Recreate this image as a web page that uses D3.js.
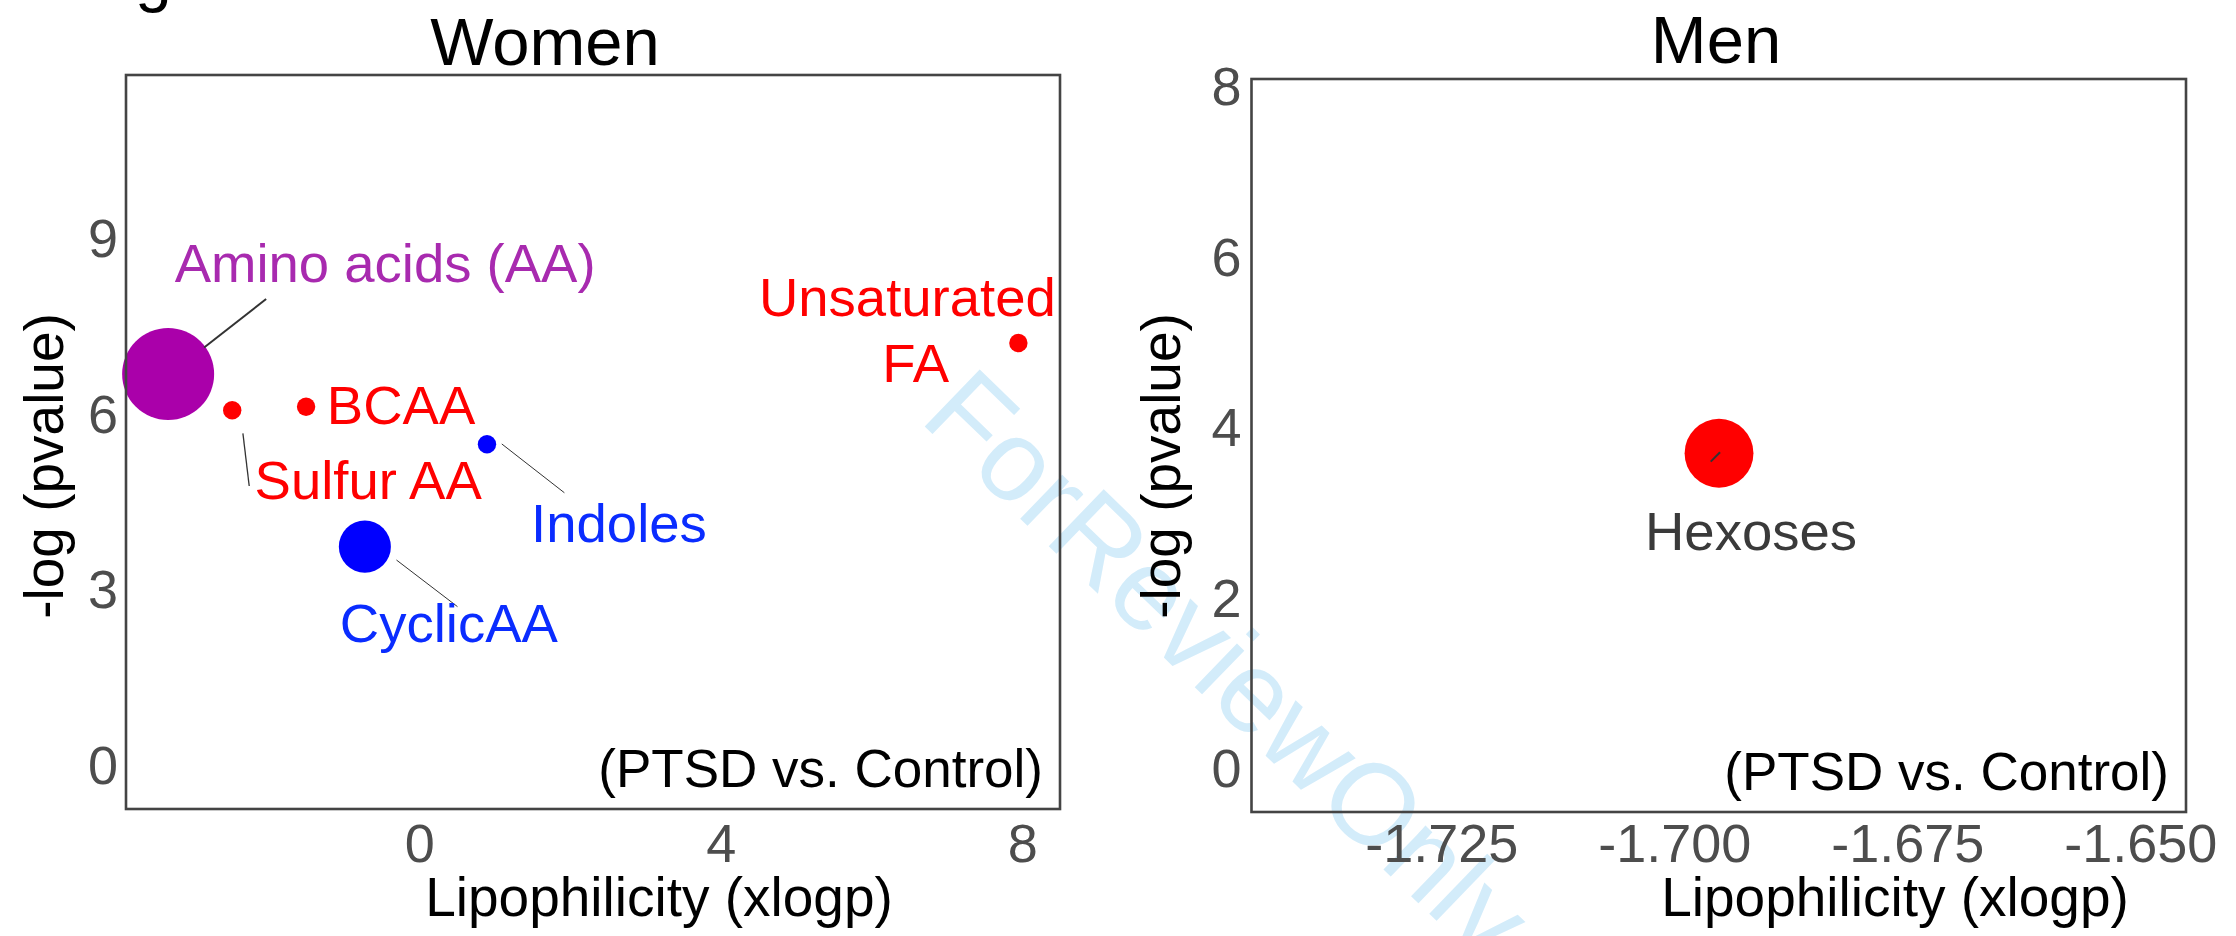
<!DOCTYPE html>
<html>
<head>
<meta charset="utf-8">
<script src="https://cdn.jsdelivr.net/npm/d3@7"></script>
<style>
  html, body { margin: 0; padding: 0; background: #ffffff; }
  svg { display: block; font-family: "Liberation Sans", Arial, Helvetica, sans-serif; }
</style>
</head>
<body>
<svg id="chart" width="2236" height="936"></svg>
<script>
// ---- data: chemical classes, lipophilicity (xlogp) and -log(p) ----
const womenClasses   = ["Amino acids (AA)", "Sulfur AA", "BCAA", "Indoles", "CyclicAA", "Unsaturated\nFA"];
const womenXlogp     = [-3.33, -2.48, -1.50, 0.90, -0.72, 7.95];
const womenNegLogP   = [6.70, 6.08, 6.14, 5.50, 3.75, 7.23];
const womenSetSize   = [25, 1, 1, 1, 8, 1];
const womenModule    = ["M1", "M2", "M2", "M3", "M3", "M2"];

const menClasses     = ["Hexoses"];
const menXlogp       = [-1.6952];
const menNegLogP     = [3.71];
const menSetSize     = [14];
const menModule      = ["M2"];

const womenXTicks = [0, 4, 8];
const womenYTicks = [0, 3, 6, 9];
const menXTicks   = [-1.725, -1.700, -1.675, -1.650];
const menYTicks   = [0, 2, 4, 6, 8];

const panelTitles = ["Women", "Men"];
const xTitle = "Lipophilicity (xlogp)";
const yTitle = "-log (pvalue)";
const contrastNote = "(PTSD vs. Control)";

// ---- styling ----
const pointColour = d3.scaleOrdinal().domain(["M1", "M2", "M3"]).range(["#AA00AA", "#FF0000", "#0000FF"]);
const labelColour = d3.scaleOrdinal().domain(["M1", "M2", "M3"]).range(["#A82AAF", "#FF0000", "#0A2CFF"]);
const radius = d3.scaleSqrt().domain([0, 25]).range([0, 46]);

// plain hyphen-minus for negative tick labels
const hyphen = f => v => f(v).replace("\u2212", "-");

const svg = d3.select("#chart");
const FONT = "'Liberation Sans', Arial, Helvetica, sans-serif";

// watermark across the figure
svg.append("text")
  .attr("transform", "translate(918,420) rotate(44)")
  .attr("font-size", 115)
  .attr("fill", "#d3ecfa")
  .text("ForReviewOnly");

// clipped panel letter at the top-left
svg.append("text")
  .attr("x", 135).attr("y", -1)
  .attr("font-size", 66)
  .attr("fill", "#000")
  .text("g");

// label placement (pixel offsets from each point, as laid out by the repel step)
const womenLabelLayout = [
  { dx: 217, dy: -92, seg: [36, -26.5, 98, -75], segW: 2 },
  { dx: 136, dy: 89,  seg: [10.7, 23, 17, 75.7], segW: 1.3 },
  { dx: 95,  dy: 17.5 },
  { dx: 132, dy: 97.5, seg: [14.8, -0.3, 77.4, 48.5], segW: 1 },
  { dx: 84,  dy: 95,  seg: [31.6, 13.4, 92.6, 60], segW: 1 },
  { dx: -108, dy: -27.3, lineDx: [-111 + 108, -102.7 + 108] }
];
const menLabelLayout = [
  { dx: 32, dy: 97, seg: [-8.3, 8.4, 1, -1], segW: 2, colour: "#3a3a3a" }
];

function drawPanel(cfg) {
  const { box, xDomain, yDomain, xTicks, yTicks, xFormat, names, xs, ys, sizes, modules, layout,
          title, titleX, titleY, xTitleX, yTitleX, xPad, yPad } = cfg;
  const x = d3.scaleLinear().domain(xDomain).range([box.left, box.right]);
  const y = d3.scaleLinear().domain(yDomain).range([box.bottom, box.top]);
  const g = svg.append("g");

  // axes (labels only, no tick marks)
  const xa = g.append("g").attr("transform", `translate(0,${box.bottom})`)
    .call(d3.axisBottom(x).tickValues(xTicks).tickSize(0).tickPadding(xPad).tickFormat(hyphen(xFormat)));
  const ya = g.append("g").attr("transform", `translate(${box.left},0)`)
    .call(d3.axisLeft(y).tickValues(yTicks).tickSize(0).tickPadding(yPad).tickFormat(d3.format("d")));
  [xa, ya].forEach(a => {
    a.select(".domain").remove();
    a.attr("font-family", FONT).attr("font-size", 54);
    a.selectAll("text").attr("fill", "#4D4D4D");
  });

  // points
  g.selectAll("circle.pt").data(names).join("circle")
    .attr("class", "pt")
    .attr("cx", (d, i) => x(xs[i]))
    .attr("cy", (d, i) => y(ys[i]))
    .attr("r", (d, i) => radius(sizes[i]))
    .attr("fill", (d, i) => pointColour(modules[i]));

  // repelled labels with leader segments
  names.forEach((name, i) => {
    const L = layout[i];
    const px = x(xs[i]), py = y(ys[i]);
    if (L.seg) {
      g.append("line")
        .attr("x1", px + L.seg[0]).attr("y1", py + L.seg[1])
        .attr("x2", px + L.seg[2]).attr("y2", py + L.seg[3])
        .attr("stroke", "#333333").attr("stroke-width", L.segW);
    }
    const lines = name.split("\n");
    lines.forEach((ln, k) => {
      g.append("text")
        .attr("x", px + L.dx + (L.lineDx ? L.lineDx[k] : 0))
        .attr("y", py + L.dy + k * 66)
        .attr("text-anchor", "middle")
        .attr("font-size", 54.5)
        .attr("fill", L.colour || labelColour(modules[i]))
        .text(ln);
    });
  });

  // panel border
  g.append("rect")
    .attr("x", box.left).attr("y", box.top)
    .attr("width", box.right - box.left).attr("height", box.bottom - box.top)
    .attr("fill", "none").attr("stroke", "#444444").attr("stroke-width", 2.6);

  // contrast note
  g.append("text")
    .attr("x", box.right - 17).attr("y", box.bottom - 22)
    .attr("text-anchor", "end").attr("font-size", 53).attr("fill", "#000")
    .text(contrastNote);

  // titles
  g.append("text").attr("x", titleX).attr("y", titleY)
    .attr("text-anchor", "middle").attr("font-size", 67).attr("fill", "#000").text(title);
  g.append("text").attr("x", xTitleX).attr("y", 916)
    .attr("text-anchor", "middle").attr("font-size", 55).attr("fill", "#000").text(xTitle);
  g.append("text")
    .attr("transform", `translate(${yTitleX},466) rotate(-90)`)
    .attr("text-anchor", "middle").attr("font-size", 55).attr("fill", "#000").text(yTitle);
}

drawPanel({
  box: { left: 126, right: 1060, top: 75, bottom: 809 },
  xDomain: [-3.889, 8.502], yDomain: [-0.735, 11.812],
  xTicks: womenXTicks, yTicks: womenYTicks, xFormat: d3.format("d"),
  names: womenClasses, xs: womenXlogp, ys: womenNegLogP, sizes: womenSetSize, modules: womenModule,
  layout: womenLabelLayout,
  title: panelTitles[0], titleX: 545, titleY: 65, xTitleX: 659, yTitleX: 63, xPad: 15, yPad: 8
});

drawPanel({
  box: { left: 1251.5, right: 2186, top: 79, bottom: 812 },
  xDomain: [-1.74536, -1.64510], yDomain: [-0.4985, 8.0997],
  xTicks: menXTicks, yTicks: menYTicks, xFormat: d3.format(".3f"),
  names: menClasses, xs: menXlogp, ys: menNegLogP, sizes: menSetSize, modules: menModule,
  layout: menLabelLayout,
  title: panelTitles[1], titleX: 1716, titleY: 63, xTitleX: 1895, yTitleX: 1180, xPad: 12, yPad: 10
});
</script>
</body>
</html>
